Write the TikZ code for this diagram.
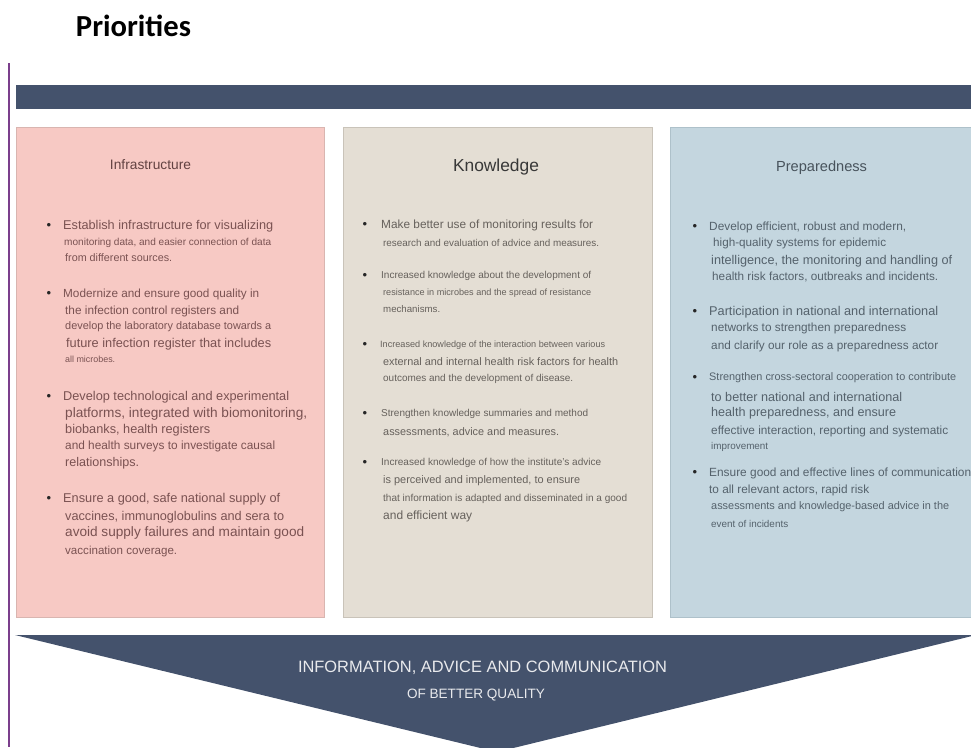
\documentclass[tikz,border=0pt]{standalone}
\usepackage{fontspec}
\usepackage{graphicx}
\setmainfont{Liberation Sans}
\newfontfamily\titlefont{Carlito}

\definecolor{slate}{HTML}{44526C}
\definecolor{pinkfill}{HTML}{F7C9C4}
\definecolor{pinkline}{HTML}{D9B5B0}
\definecolor{pinktext}{HTML}{7A5252}
\definecolor{sandfill}{HTML}{E4DED4}
\definecolor{sandline}{HTML}{C9C3B9}
\definecolor{sandtext}{HTML}{66615C}
\definecolor{skyfill}{HTML}{C4D6DF}
\definecolor{skyline}{HTML}{AEC1CA}
\definecolor{skytext}{HTML}{55626C}
\definecolor{margin}{HTML}{7B3F8C}

\begin{document}
\begin{tikzpicture}[x=1pt,y=-1pt]
  \tikzstyle{row}=[anchor=west,inner sep=0pt]
  \tikzstyle{dot}=[inner sep=0pt,font=\fontsize{13}{13}\selectfont,text=black!85]
  \tikzstyle{head}=[inner sep=0pt]
  \useasboundingbox (0,0) rectangle (971,747);

  % title and left rule
  \node[head] (title) at (133.5,26) {\resizebox{115pt}{!}{\titlefont\bfseries Priorities}};
  \draw[margin,line width=1.3pt] (9,63) -- (9,747);

  % top bar and the three columns
  \fill[slate] (16,85) rectangle (972,109);
  \draw[pinkline,fill=pinkfill] (16,127) rectangle (324,617);
  \draw[sandline,fill=sandfill] (343,127) rectangle (652,617);
  \draw[skyline,fill=skyfill] (670,127) rectangle (975,617);

  \node[head,text=pinktext!80!black] (infra) at (150.5,165) {\resizebox{81pt}{!}{Infrastructure}};
  \node[head,text=black!78] (know) at (496,167) {\resizebox{86pt}{!}{Knowledge}};
  \node[head,text=skytext!85!black] (prep) at (821.5,168) {\resizebox{91pt}{!}{Preparedness}};

  % Infrastructure
  \foreach \y [count=\i] in {226,294,397,499}
    \node[dot] (infdot\i) at (49,\y) {\textbullet};
  \foreach \y/\px/\w/\t [count=\i] in {
      226/63/210/{Establish infrastructure for visualizing},
      243/64/207/{monitoring data, and easier connection of data},
      258/65/107/{from different sources.},
      294/63/196/{Modernize and ensure good quality in},
      311/65/174/{the infection control registers and},
      327/65/206/{develop the laboratory database towards a},
      344/66/205/{future infection register that includes},
      359/65/50/{all microbes.},
      397/63/226/{Develop technological and experimental},
      414/65/242/{platforms, integrated with biomonitoring,},
      430/65/145/{biobanks, health registers},
      446/65/210/{and health surveys to investigate causal},
      463/65/74/{relationships.},
      499/63/217/{Ensure a good, safe national supply of},
      517/65/219/{vaccines, immunoglobulins and sera to},
      533/65/239/{avoid supply failures and maintain good},
      551/65/112/{vaccination coverage.}}
    \node[row,text=pinktext] (inf\i) at (\px,\y) {\resizebox{\w pt}{!}{\t}};

  % Knowledge
  \foreach \y [count=\i] in {225,276,345,414,463}
    \node[dot] (kndot\i) at (365,\y) {\textbullet};
  \foreach \y/\px/\w/\t [count=\i] in {
      225/381/212/{Make better use of monitoring results for},
      243/383/216/{research and evaluation of advice and measures.},
      276/381/210/{Increased knowledge about the development of},
      293/383/208/{resistance in microbes and the spread of resistance},
      309/383/57/{mechanisms.},
      345/380/225/{Increased knowledge of the interaction between various},
      362/383/235/{external and internal health risk factors for health},
      379/383/190/{outcomes and the development of disease.},
      414/381/207/{Strengthen knowledge summaries and method},
      432/383/176/{assessments, advice and measures.},
      463/381/220/{Increased knowledge of how the institute's advice},
      481/383/197/{is perceived and implemented, to ensure},
      499/383/244/{that information is adapted and disseminated in a good},
      516/383/89/{and efficient way}}
    \node[row,text=sandtext] (kn\i) at (\px,\y) {\resizebox{\w pt}{!}{\t}};

  % Preparedness
  \foreach \y [count=\i] in {227,312,378,473}
    \node[dot] (prdot\i) at (695,\y) {\textbullet};
  \foreach \y/\px/\w/\t [count=\i] in {
      227/709/197/{Develop efficient, robust and modern,},
      243/713/173/{high-quality systems for epidemic},
      261/711/241/{intelligence, the monitoring and handling of},
      277/712/226/{health risk factors, outbreaks and incidents.},
      312/709/229/{Participation in national and international},
      328/711/195/{networks to strengthen preparedness},
      346/711/227/{and clarify our role as a preparedness actor},
      378/709/247/{Strengthen cross-sectoral cooperation to contribute},
      397/711/191/{to better national and international},
      413/711/185/{health preparedness, and ensure},
      431/711/237/{effective interaction, reporting and systematic},
      447/711/57/{improvement},
      473/709/262/{Ensure good and effective lines of communication},
      490/709/160/{to all relevant actors, rapid risk},
      507/711/238/{assessments and knowledge-based advice in the},
      524/711/77/{event of incidents}}
    \node[row,text=skytext] (pr\i) at (\px,\y) {\resizebox{\w pt}{!}{\t}};

  % outcome arrow
  \fill[slate] (15,635) -- (972,635) -- (972,636) -- (497,752) -- cycle;
  \node[head,text=white!88!slate] (info) at (482.5,668) {\resizebox{369pt}{!}{INFORMATION, ADVICE AND COMMUNICATION}};
  \node[head,text=white!88!slate] (quality) at (476,695) {\resizebox{138pt}{!}{OF BETTER QUALITY}};
\end{tikzpicture}
\end{document}
